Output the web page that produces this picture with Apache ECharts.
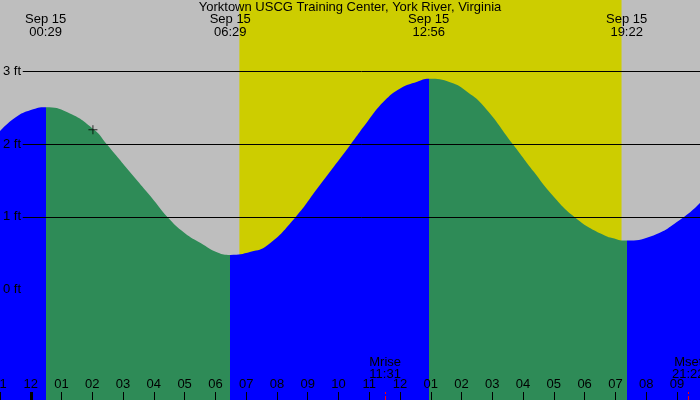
<!DOCTYPE html>
<html>
<head>
<meta charset="utf-8">
<script src="https://cdn.jsdelivr.net/npm/echarts@6/dist/echarts.min.js"></script>
<style>
    html, body { margin: 0; padding: 0; background: #bebebe; }
    #grafico-mare { width: 700px; height: 400px; }
</style>
</head>
<body>
<div id="grafico-mare"></div>
<script>
// Tide heights (ft), hours from midnight Sep 15
const tideHours = [-1, -0.49, 0, 0.483, 1.19, 2.06, 2.47, 3.36, 3.9, 4.44, 5.0, 5.52, 6.07, 6.483,
    7.15, 7.69, 8.61, 9.31, 10.4, 10.94, 11.48, 12.02, 12.56, 12.933,
    13.65, 14.19, 14.73, 15.67, 16.35, 16.89, 17.67, 18.52, 19.06, 19.367,
    20.14, 21.23, 21.75];
const tideFeet = [2.18, 2.37, 2.47, 2.51, 2.44, 2.20, 2.00, 1.55, 1.28, 1.00, 0.78, 0.64, 0.51, 0.477,
    0.52, 0.61, 1.00, 1.39, 2.00, 2.31, 2.59, 2.77, 2.86, 2.90,
    2.85, 2.72, 2.52, 2.00, 1.62, 1.33, 1.00, 0.77, 0.69, 0.674,
    0.73, 1.00, 1.19];

// High / low tides
const extremeHours = [0.483, 6.483, 12.933, 19.367];
const extremeTimes = ['00:29', '06:29', '12:56', '19:22'];
const extremeKinds = ['high', 'low', 'high', 'low'];
const tideDate = 'Sep 15';

// Sun and moon
const sunRiseHour = 6.78;
const sunSetHour = 19.2;
const moonEvents = [
    { name: 'Mrise', hour: 11.517, time: '11:31' },
    { name: 'Mset', hour: 21.367, time: '21:22' }
];

// current position marker
const nowHour = 2.02;
const nowFeet = 2.2;

const footLines = [1, 2, 3];
const title = 'Yorktown USCG Training Center, York River, Virginia';

const X_MIN = -1, X_MAX = 21.75;
const Y_MIN = -1.52, Y_MAX = 3.985;
const AZUL = '#0000ff', VERDE = '#2e8b57', AMARELO = '#cdcd00';
const FONTE = 'Liberation Sans';

function renderGraficoMare() {
    const chartDom = document.getElementById('grafico-mare');
    const myChart = echarts.init(chartDom);

    const dados = tideHours.map((h, i) => [h, tideFeet[i]]);

    // rising = blue, falling = green
    const pieces = [];
    let inicio = null;
    extremeHours.forEach((h, i) => {
        const cor = extremeKinds[i] === 'high' ? AZUL : VERDE;
        const p = { lt: h, color: cor };
        if (inicio !== null) p.gte = inicio;
        pieces.push(p);
        inicio = h;
    });
    pieces.push({ gte: inicio, color: extremeKinds[extremeKinds.length - 1] === 'high' ? VERDE : AZUL });

    const linhasPes = footLines.map(v => [
        { coord: [-0.26, v] },
        { coord: [X_MAX, v] }
    ]);

    const marcasTopo = extremeHours.map((h, i) => ({
        coord: [h, Y_MAX],
        label: { formatter: tideDate + '\n' + extremeTimes[i] }
    }));

    const tickLen = 8 / (400 / (Y_MAX - Y_MIN));
    const marcasBase = [
        [
            { coord: [0, Y_MIN], lineStyle: { color: '#000', width: 3 }, label: { show: false } },
            { coord: [0, Y_MIN + tickLen] }
        ]
    ];
    moonEvents.forEach(m => {
        marcasBase.push([
            { coord: [m.hour, Y_MIN], lineStyle: { color: '#ff0000', width: 1 },
              label: { show: true, position: 'end', distance: 12, formatter: m.name + '\n' + m.time } },
            { coord: [m.hour, Y_MIN + tickLen] }
        ]);
    });

    const option = {
        animation: false,
        backgroundColor: '#bebebe',
        textStyle: { fontFamily: FONTE },
        title: {
            text: title,
            left: 'center',
            top: 1,
            padding: 0,
            textStyle: { fontFamily: FONTE, fontSize: 13, fontWeight: 'normal', color: '#000', lineHeight: 13 }
        },
        grid: { left: 0, right: 0, top: 0, bottom: 0, outerBoundsMode: 'none', containLabel: false },
        visualMap: {
            type: 'piecewise',
            show: false,
            dimension: 0,
            seriesIndex: 1,
            pieces: pieces
        },
        xAxis: {
            type: 'value',
            min: X_MIN,
            max: X_MAX,
            interval: 1,
            z: 10,
            axisLine: { show: false, onZero: false },
            splitLine: { show: false },
            axisTick: { inside: true, length: 8, lineStyle: { color: '#000', width: 1 } },
            axisLabel: {
                inside: true,
                margin: 9,
                fontSize: 13,
                fontFamily: FONTE,
                color: '#000',
                formatter: v => {
                    if (Math.abs(v - Math.round(v)) > 1e-6) return '';
                    let h = ((Math.round(v) % 12) + 12) % 12;
                    if (h === 0) h = 12;
                    return String(h).padStart(2, '0');
                }
            }
        },
        yAxis: {
            type: 'value',
            min: Y_MIN,
            max: Y_MAX,
            splitNumber: 5,
            z: 10,
            axisLine: { show: false, onZero: false },
            axisTick: { show: false },
            splitLine: { show: false },
            axisLabel: {
                inside: true,
                margin: 3,
                fontSize: 13,
                fontFamily: FONTE,
                color: '#000',
                formatter: v => (Number.isInteger(v) && v >= 0 && v <= 3) ? v + ' ft' : ''
            }
        },
        series: [
            {
                // daylight + foot lines, behind the tide
                name: 'fundo',
                type: 'line',
                data: [],
                z: 1,
                silent: true,
                markArea: {
                    silent: true,
                    itemStyle: { color: AMARELO, opacity: 1 },
                    data: [[{ xAxis: sunRiseHour }, { xAxis: sunSetHour }]]
                },
                markLine: {
                    silent: true,
                    symbol: 'none',
                    label: { show: false },
                    lineStyle: { color: '#000', width: 1, type: 'solid' },
                    data: linhasPes
                }
            },
            {
                name: 'Maré',
                type: 'line',
                data: dados,
                z: 2,
                smooth: 0.5,
                showSymbol: false,
                symbol: 'none',
                lineStyle: { width: 0 },
                areaStyle: { opacity: 1, origin: 'start' },
                markPoint: {
                    silent: true,
                    symbol: 'circle',
                    symbolSize: 0,
                    label: {
                        show: true,
                        position: 'inside',
                        offset: [0, 26],
                        fontSize: 13,
                        lineHeight: 13,
                        fontFamily: FONTE,
                        color: '#000'
                    },
                    data: marcasTopo
                }
            },
            {
                name: 'marcas',
                type: 'line',
                data: [],
                z: 5,
                silent: true,
                markLine: {
                    silent: true,
                    symbol: 'none',
                    label: { fontSize: 13, lineHeight: 12, fontFamily: FONTE, color: '#000' },
                    data: marcasBase
                }
            },
            {
                name: 'agora',
                type: 'scatter',
                z: 6,
                silent: true,
                symbol: 'path://M0,4h9v1h-9z M4,0h1v9h-1z',
                symbolSize: 9,
                itemStyle: { color: '#000' },
                data: [[nowHour, nowFeet]]
            }
        ]
    };
    myChart.setOption(option);
}

document.addEventListener('DOMContentLoaded', () => {
    renderGraficoMare();
});
</script>
</body>
</html>
